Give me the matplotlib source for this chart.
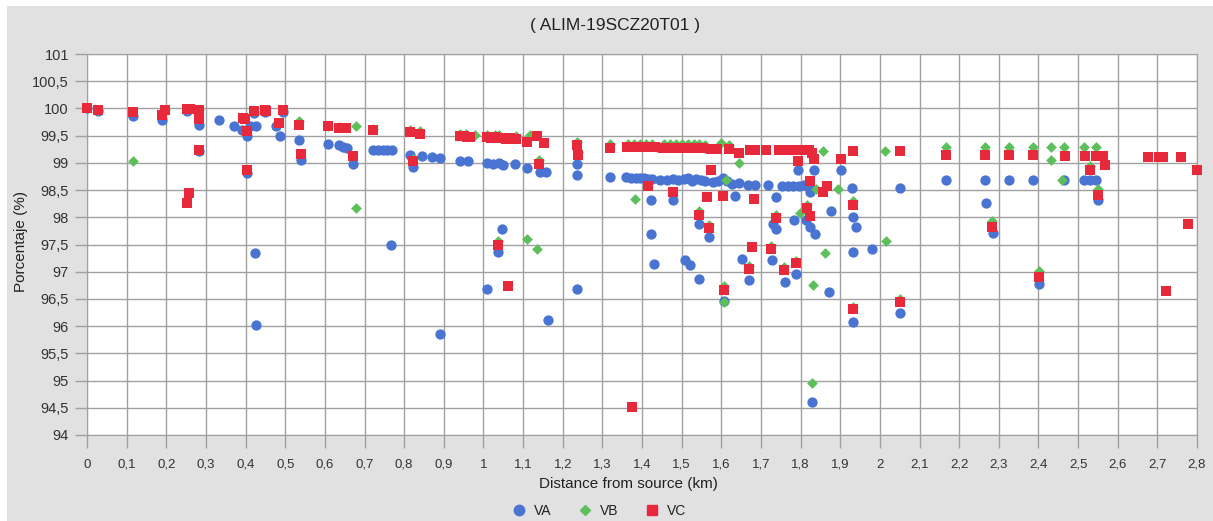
import numpy as np
import matplotlib
matplotlib.use("Agg")
import matplotlib.pyplot as plt
from matplotlib.patches import Rectangle
from matplotlib.lines import Line2D

# VA (blue circles)
va_x = [0.0, 0.028, 0.115, 0.19, 0.253, 0.283, 0.283, 0.333, 0.371, 0.392, 0.404, 0.404,
        0.412, 0.421, 0.424, 0.426, 0.427, 0.449, 0.478, 0.486, 0.495, 0.535, 0.541,
        0.608, 0.636, 0.647, 0.656, 0.671, 0.722, 0.734, 0.747, 0.758, 0.770, 0.767,
        0.816, 0.823, 0.845, 0.870, 0.890, 0.890, 0.940, 0.960, 1.008, 1.008, 1.025,
        1.036, 1.040, 1.048, 1.050, 1.079, 1.110, 1.142, 1.159, 1.163, 1.237, 1.237,
        1.237, 1.319,
        1.360, 1.372, 1.385, 1.395, 1.405, 1.415, 1.425, 1.445, 1.462, 1.478, 1.492,
        1.505, 1.515, 1.525, 1.535, 1.548, 1.560, 1.578, 1.592, 1.605, 1.615, 1.628,
        1.645, 1.668, 1.685, 1.718, 1.752, 1.768, 1.782, 1.795, 1.808, 1.822,
        1.422, 1.422, 1.430, 1.477, 1.508, 1.521, 1.545, 1.545, 1.570, 1.607, 1.634,
        1.651, 1.670, 1.727, 1.731, 1.738, 1.738, 1.760, 1.784, 1.788, 1.794, 1.813,
        1.824, 1.837, 1.825, 1.830, 1.834, 1.872, 1.878, 1.902, 1.929, 1.933, 1.939,
        1.933, 1.933, 1.979, 2.050, 2.050, 2.168, 2.265, 2.268, 2.285, 2.327, 2.386,
        2.402, 2.465, 2.516, 2.530, 2.544, 2.551]
va_y = [100.0, 99.95, 99.87, 99.78, 99.95, 99.69, 99.22, 99.78, 99.68, 99.61, 99.50, 98.81,
        99.68, 99.92, 97.34, 96.02, 99.68, 99.93, 99.68, 99.49, 99.93, 99.42, 99.05,
        99.35, 99.33, 99.30, 99.28, 98.98, 99.24, 99.24, 99.24, 99.24, 99.24, 97.50,
        99.15, 98.93, 99.12, 99.11, 99.09, 95.85, 99.04, 99.03, 99.00, 96.69, 98.98,
        97.36, 99.00, 97.79, 98.96, 98.97, 98.90, 98.84, 98.84, 96.11, 98.98, 98.78,
        96.69, 98.74,
        98.74, 98.73, 98.73, 98.72, 98.72, 98.71, 98.70, 98.69, 98.69, 98.70, 98.68,
        98.70, 98.72, 98.66, 98.71, 98.69, 98.66, 98.64, 98.67, 98.72, 98.66, 98.62,
        98.63, 98.60, 98.60, 98.60, 98.58, 98.57, 98.58, 98.58, 98.60, 98.55,
        98.31, 97.70, 97.14, 98.31, 97.22, 97.12, 97.88, 96.87, 97.64, 96.46, 98.40,
        97.23, 96.85, 97.21, 97.88, 97.78, 98.37, 96.82, 97.95, 96.96, 98.87, 97.95,
        97.83, 97.69, 98.46, 94.60, 98.86, 96.62, 98.11, 98.86, 98.54, 98.00, 97.83,
        97.36, 96.07, 97.42, 98.54, 96.24, 98.69, 98.69, 98.27, 97.71, 98.69, 98.69,
        96.77, 98.69, 98.69, 98.69, 98.69, 98.31]

# VB (green diamonds)
vb_x = [0.0, 0.028, 0.115, 0.198, 0.253, 0.283, 0.421, 0.449, 0.495, 0.535, 0.608, 0.636,
        0.678, 0.678, 0.722, 0.816, 0.840, 0.823, 0.942, 0.955, 0.978, 1.008, 1.030,
        1.040, 1.083, 1.036, 1.109, 1.117, 1.136, 1.140, 1.237, 1.239, 1.319,
        1.365, 1.380, 1.395, 1.410, 1.425, 1.455, 1.470, 1.485, 1.500, 1.515, 1.530,
        1.545, 1.560, 1.600, 1.620,
        1.382, 1.545, 1.570, 1.607, 1.607, 1.613, 1.645, 1.670, 1.725, 1.738, 1.759,
        1.788, 1.799, 1.815, 1.830, 1.832, 1.839, 1.856, 1.862, 1.895, 1.933, 1.933,
        2.013, 2.015, 2.050, 2.168, 2.265, 2.282, 2.327, 2.386, 2.402, 2.431, 2.431,
        2.459, 2.465, 2.516, 2.529, 2.545, 2.551]
vb_y = [100.0, 99.98, 99.04, 99.98, 99.99, 99.97, 99.96, 99.98, 99.98, 99.76, 99.68, 99.65,
        99.67, 98.17, 99.62, 99.61, 99.58, 99.08, 99.53, 99.53, 99.52, 99.52, 99.52,
        99.51, 99.49, 97.56, 97.61, 99.51, 97.42, 99.05, 99.39, 99.20, 99.35,
        99.35, 99.35, 99.35, 99.35, 99.34, 99.34, 99.34, 99.35, 99.34, 99.34, 99.35,
        99.34, 99.33, 99.36, 99.33,
        98.33, 98.11, 97.85, 96.45, 96.73, 98.69, 98.99, 97.10, 97.48, 98.04, 97.08,
        97.20, 98.08, 98.23, 94.96, 96.76, 98.52, 99.21, 97.34, 98.52, 98.30, 96.36,
        99.21, 97.57, 96.50, 99.29, 99.29, 97.93, 99.29, 99.29, 97.01, 99.29, 99.06,
        98.69, 99.29, 99.29, 98.95, 99.29, 98.52]

# VC (red squares)
vc_x = [0.0, 0.028, 0.115, 0.190, 0.198, 0.253, 0.259, 0.257, 0.253, 0.283, 0.283, 0.283,
        0.283, 0.394, 0.399, 0.404, 0.404, 0.421, 0.449, 0.452, 0.485, 0.495, 0.535,
        0.541, 0.608, 0.636, 0.645, 0.653, 0.671, 0.722, 0.816, 0.823, 0.840,
        0.942, 0.950, 0.958, 0.966, 1.008, 1.018, 1.028, 1.038, 1.048, 1.058, 1.068,
        1.083, 1.036, 1.061, 1.109, 1.136, 1.141, 1.152, 1.237, 1.239, 1.319,
        1.362, 1.372, 1.382, 1.392, 1.402, 1.412, 1.422, 1.432, 1.452, 1.462, 1.472,
        1.482, 1.492, 1.502, 1.512, 1.522, 1.532, 1.542, 1.552, 1.575, 1.590, 1.620,
        1.645, 1.672, 1.685, 1.712, 1.745, 1.758, 1.770, 1.782, 1.795, 1.808, 1.820,
        1.828, 1.834,
        1.376, 1.416, 1.477, 1.545, 1.570, 1.573, 1.563, 1.605, 1.607, 1.670, 1.677,
        1.683, 1.725, 1.738, 1.759, 1.788, 1.794, 1.815, 1.823, 1.825, 1.857, 1.866,
        1.902, 1.931, 1.933, 1.933, 2.050, 2.050, 2.168, 2.265, 2.282, 2.327, 2.386,
        2.402, 2.467, 2.517, 2.529, 2.545, 2.551, 2.562, 2.568, 2.677, 2.705, 2.715,
        2.722, 2.759, 2.778, 2.800]
vc_y = [100.0, 99.98, 99.94, 99.88, 99.98, 99.99, 99.99, 98.45, 98.27, 99.97, 99.88, 99.81,
        99.23, 99.82, 99.80, 99.58, 98.86, 99.96, 99.98, 99.96, 99.74, 99.98, 99.70,
        99.17, 99.67, 99.64, 99.64, 99.64, 99.12, 99.61, 99.57, 99.04, 99.53,
        99.49, 99.49, 99.48, 99.47, 99.47, 99.46, 99.47, 99.45, 99.46, 99.44, 99.45,
        99.43, 97.49, 96.73, 99.39, 99.50, 98.98, 99.36, 99.33, 99.15, 99.28,
        99.29, 99.29, 99.29, 99.29, 99.29, 99.29, 99.29, 99.29, 99.27, 99.27, 99.27,
        99.27, 99.27, 99.27, 99.27, 99.27, 99.27, 99.27, 99.27, 99.25, 99.25, 99.25,
        99.18, 99.24, 99.24, 99.24, 99.24, 99.24, 99.24, 99.24, 99.24, 99.24, 99.24,
        99.18, 99.08,
        94.52, 98.57, 98.47, 98.05, 97.80, 98.87, 98.38, 98.40, 96.67, 97.05, 97.45,
        98.33, 97.42, 97.99, 97.03, 97.16, 99.03, 98.17, 98.66, 98.02, 98.47, 98.57,
        99.07, 99.21, 98.23, 96.31, 99.21, 96.44, 99.15, 99.15, 97.83, 99.15, 99.15,
        96.91, 99.13, 99.13, 98.86, 99.13, 98.41, 99.13, 98.96, 99.10, 99.10, 99.10,
        96.65, 99.10, 97.88, 98.86]

x_ticks = np.round(np.arange(0, 2.81, 0.1), 1)
y_ticks = np.arange(94, 101.01, 0.5)

BLUE = "#4a74d2"
GREEN = "#5cbf5a"
RED = "#e8283b"
BG = "#e1e1e1"


def fmt(v):
    s = ("%.1f" % v).rstrip("0").rstrip(".")
    return s.replace(".", ",")


def main():
    plt.rcParams["font.family"] = ["Liberation Sans", "DejaVu Sans"]
    fig = plt.figure(figsize=(12.13, 5.21), dpi=100, facecolor="white")
    # grey panel behind everything (thin white strip top and left)
    fig.patches.append(Rectangle((7 / 1213, 0), 1, 1 - 6 / 521, transform=fig.transFigure,
                                 facecolor=BG, edgecolor="none", zorder=-10))

    ax = fig.add_axes([87 / 1213, 1 - 435 / 521, 1110 / 1213, 381 / 521])
    ax.set_facecolor("white")

    ax.scatter(va_x, va_y, s=55, marker="o", color=BLUE, zorder=3, clip_on=False, linewidths=0)
    ax.scatter(vb_x, vb_y, s=30, marker="D", color=GREEN, zorder=4, clip_on=False, linewidths=0)
    ax.scatter(vc_x, vc_y, s=48, marker="s", color=RED, zorder=5, clip_on=False, linewidths=0)

    ax.set_xlim(0, 2.8)
    ax.set_ylim(94, 101)
    ax.set_xticks(x_ticks)
    ax.set_xticklabels([fmt(v) for v in x_ticks])
    ax.set_yticks(y_ticks)
    ax.set_yticklabels([fmt(v) for v in y_ticks])
    ax.grid(True, color="#a0a0a0", linewidth=1)
    ax.set_axisbelow(True)
    for sp in ax.spines.values():
        sp.set_color("#a0a0a0")
    ax.tick_params(axis="y", length=9, width=1, color="#a0a0a0", pad=4,
                   labelsize=10.5, labelcolor="#333333")
    ax.tick_params(axis="x", length=9, width=1, color="#a0a0a0", pad=8,
                   labelsize=9.5, labelcolor="#333333")

    fig.text(0.507, 0.952, "( ALIM-19SCZ20T01 )", ha="center", va="center",
             fontsize=12.5, color="#222222")
    fig.text(0.518, 0.071, "Distance from source (km)", ha="center", va="center",
             fontsize=11, color="#222222")
    fig.text(0.017, 0.537, "Porcentaje (%)", ha="center", va="center", rotation=90,
             fontsize=11, color="#222222")

    handles = [
        Line2D([], [], linestyle="none", marker="o", markersize=7.5, color=BLUE, label="VA"),
        Line2D([], [], linestyle="none", marker="D", markersize=5, color=GREEN, label="VB"),
        Line2D([], [], linestyle="none", marker="s", markersize=6.5, color=RED, label="VC"),
    ]
    fig.legend(handles=handles, loc="center", bbox_to_anchor=(0.494, 0.019), ncol=3,
               frameon=False, fontsize=10, handlelength=1.0, handletextpad=0.6,
               columnspacing=1.9, labelcolor="#222222")

    fig.savefig("out.png", dpi=100, facecolor=fig.get_facecolor())


if __name__ == "__main__":
    main()
